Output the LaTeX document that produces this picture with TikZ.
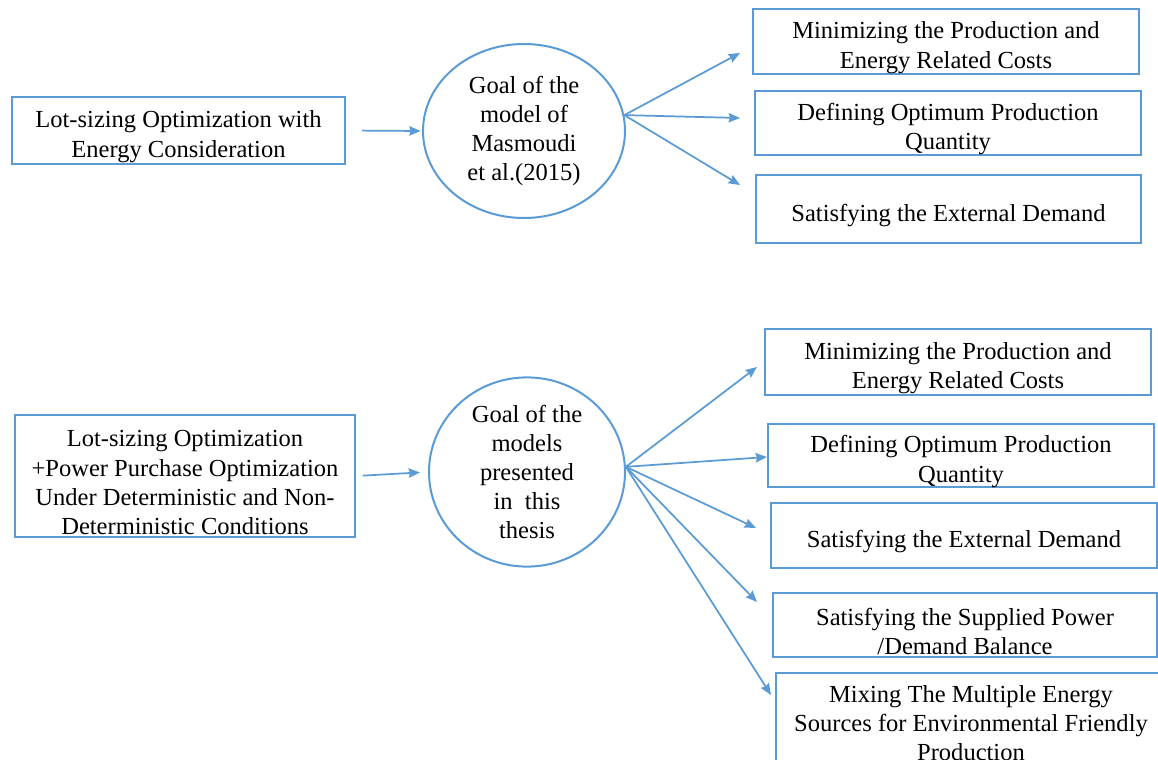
\documentclass[tikz,border=0pt]{standalone}
\usepackage{fontspec}
\setmainfont{Liberation Serif}
\usetikzlibrary{arrows.meta,shapes.geometric}
\definecolor{edgeblue}{RGB}{91,155,213}
% tall strut on a box's first line: sets its text a little low, as Word does
\newcommand\firstline{\rule{0pt}{22pt}}
\begin{document}
\begin{tikzpicture}[x=0.75pt,y=-0.75pt,
  every node/.style={font=\fontsize{18.4}{21.8}\selectfont, text=black},
  goalbox/.style={draw=edgeblue, line width=1.5pt, rectangle, align=center, inner sep=0pt},
  goalcircle/.style={draw=edgeblue, line width=1.5pt, ellipse, align=center, inner sep=0pt},
  link/.style={draw=edgeblue, line width=1.3pt, -{Stealth[length=8.5pt,width=7pt,inset=1pt]}}]
\useasboundingbox (0,0) rectangle (1158,760);
\clip (0,0) rectangle (1158,760);
\fill[white] (0,0) rectangle (1158,760);

% ---------- upper chart: Masmoudi et al. (2015) ----------
\node[goalbox, minimum width=249.75pt, minimum height=50.25pt] (lotA) at (178.5,130.5)
  {\firstline Lot-sizing Optimization with\\Energy Consideration};
\node[goalcircle, minimum width=151.5pt, minimum height=130.5pt] (goalA) at (524,131)
  {Goal of the\\model of\\Masmoudi\\et al.(2015)};

\node[goalbox, minimum width=289.5pt, minimum height=48.75pt] (aCost) at (946,41.5)
  {\firstline Minimizing the Production and\\Energy Related Costs};
\node[goalbox, minimum width=289.5pt, minimum height=46.5pt] (aQty) at (948,123)
  {\firstline Defining Optimum Production\\Quantity};
\node[goalbox, minimum width=288.75pt, minimum height=51pt] (aDem) at (948.5,209)
  {\firstline Satisfying the External Demand};

\coordinate (aCostTip) at (740,53);
\coordinate (aQtyTip) at (740,118);
\coordinate (aDemTip) at (740,185);

\draw[link, shorten <=12pt, shorten >=1pt] (lotA.east) -- (goalA.west);
\draw[link] (goalA.9) -- (aCostTip);
\draw[link] (goalA.9) -- (aQtyTip);
\draw[link] (goalA.9) -- (aDemTip);

% ---------- lower chart: models of the thesis ----------
\node[goalbox, minimum width=255pt, minimum height=91.5pt] (lotB) at (185,476)
  {\firstline Lot-sizing Optimization\\+Power Purchase Optimization\\Under Deterministic and Non-\\Deterministic Conditions};
\node[goalcircle, minimum width=147pt, minimum height=135pt] (goalB) at (527,472)
  {Goal of the\\models\\presented\\in~~this\\thesis};

\node[goalbox, minimum width=289.5pt, minimum height=49.5pt] (bCost) at (958,362)
  {\firstline Minimizing the Production and\\Energy Related Costs};
\node[goalbox, minimum width=289.5pt, minimum height=45.75pt] (bQty) at (961,455.5)
  {\firstline Defining Optimum Production\\Quantity};
\node[goalbox, minimum width=289.5pt, minimum height=48.75pt] (bDem) at (964,535.5)
  {\firstline Satisfying the External Demand};
\node[goalbox, minimum width=288pt, minimum height=48pt] (bBal) at (965,625)
  {\firstline Satisfying the Supplied Power\\/Demand Balance};
\node[goalbox, minimum width=292.5pt, minimum height=75.75pt] (bMix) at (971,723)
  {Mixing The Multiple Energy\\Sources for Environmental Friendly\\Production};

\coordinate (bCostTip) at (757,367);
\coordinate (bQtyTip) at (767,457);
\coordinate (bDemTip) at (756,528);
\coordinate (bBalTip) at (757,602);
\coordinate (bMixTip) at (771,695);

\draw[link, shorten <=5pt, shorten >=6pt] (lotB.east) -- (goalB.west);
\draw[link] (goalB.3) -- (bCostTip);
\draw[link] (goalB.3) -- (bQtyTip);
\draw[link] (goalB.3) -- (bDemTip);
\draw[link] (goalB.3) -- (bBalTip);
\draw[link] (goalB.3) -- (bMixTip);
\end{tikzpicture}
\end{document}
